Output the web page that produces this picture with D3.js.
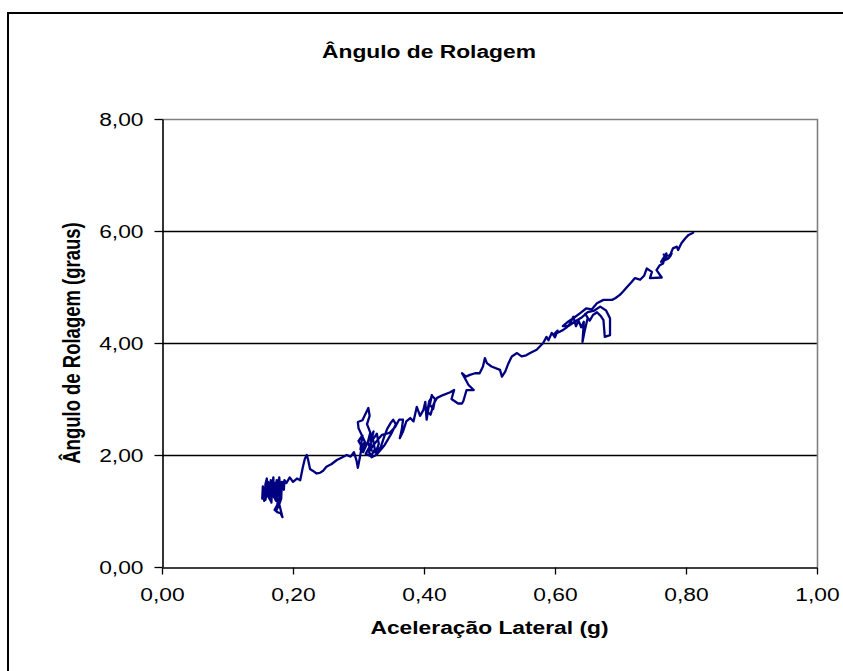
<!DOCTYPE html>
<html><head><meta charset="utf-8">
<script src="https://cdn.jsdelivr.net/npm/d3@7"></script>
<style>body{margin:0;background:#fff} text{font-family:"Liberation Sans",Arial,sans-serif}</style>
</head><body><svg id="c" width="843" height="671"></svg>
<script>
// [lateral acceleration (g), roll angle (graus)] in recorded order
const rollTrace = [
[0.160,1.30],[0.162,1.52],[0.158,1.20],[0.155,1.35],[0.153,1.22],[0.154,1.44],[0.156,1.18],[0.158,1.48],
[0.160,1.58],[0.161,1.28],[0.163,1.50],[0.164,1.22],[0.166,1.55],[0.167,1.15],[0.168,1.42],[0.170,1.60],
[0.171,1.24],[0.172,1.45],[0.169,1.32],[0.174,1.18],[0.175,1.55],[0.176,1.28],[0.171,1.40],[0.178,1.10],
[0.175,1.02],[0.177,1.20],[0.180,1.25],[0.177,1.48],[0.179,1.60],[0.181,1.30],[0.183,1.52],[0.182,1.22],
[0.179,1.12],[0.184,0.89],[0.181,0.96],[0.176,0.98],[0.172,1.02],[0.178,1.15],[0.182,1.40],[0.185,1.52],
[0.180,1.35],[0.174,1.45],[0.170,1.30],[0.165,1.40],[0.162,1.26],[0.166,1.18],[0.168,1.46],[0.173,1.50],
[0.176,1.38],[0.174,1.22],[0.178,1.30],[0.183,1.45],[0.186,1.38],[0.187,1.55],
[0.190,1.50],[0.195,1.60],[0.200,1.52],[0.206,1.58],[0.211,1.55],[0.215,1.78],[0.218,1.93],[0.221,2.00],
[0.223,1.92],[0.226,1.75],[0.230,1.72],[0.236,1.67],[0.241,1.68],[0.246,1.72],[0.251,1.79],[0.259,1.84],
[0.267,1.91],[0.274,1.95],[0.282,2.00],[0.288,1.97],
[0.293,2.05],[0.297,1.90],[0.299,1.77],[0.302,1.95],[0.305,2.15],[0.300,2.25],[0.306,2.35],[0.303,2.10],
[0.309,2.22],[0.307,2.05],[0.312,2.18],[0.300,2.48],[0.299,2.59],[0.306,2.62],[0.310,2.72],[0.315,2.84],
[0.317,2.70],[0.313,2.55],[0.318,2.40],[0.314,2.22],[0.320,2.08],[0.318,2.30],[0.323,2.42],[0.317,2.15],
[0.311,2.02],[0.319,1.98],[0.325,2.10],[0.322,2.28],[0.328,2.38],[0.331,2.20],[0.326,2.04],[0.334,2.14],
[0.339,2.32],[0.344,2.47],[0.349,2.57],[0.353,2.63],[0.357,2.55],[0.351,2.40],[0.345,2.28],[0.340,2.18],
[0.333,2.08],[0.327,2.00],[0.320,1.96],[0.316,2.06],[0.323,2.18],[0.330,2.28],[0.336,2.36],[0.343,2.38],
[0.348,2.40],[0.356,2.50],[0.362,2.63],[0.368,2.63],[0.366,2.45],[0.363,2.30],[0.368,2.42],[0.373,2.60],
[0.379,2.66],[0.384,2.60],[0.389,2.86],[0.394,2.70],[0.399,2.80],[0.402,2.95],[0.404,2.63],[0.407,2.85],
[0.412,3.07],[0.409,2.90],[0.414,2.82],[0.417,3.00],[0.413,3.05],[0.408,2.96],[0.405,2.78],[0.410,2.72],
[0.415,2.92],[0.420,3.02],[0.429,3.07],[0.440,3.12],[0.446,3.16],[0.442,3.00],[0.452,2.92],[0.458,2.92],
[0.460,2.96],[0.465,3.16],[0.476,3.16],[0.468,3.25],[0.462,3.38],[0.458,3.46],[0.464,3.40],[0.470,3.43],
[0.478,3.46],[0.485,3.46],[0.490,3.58],[0.493,3.73],[0.496,3.64],[0.503,3.58],[0.516,3.52],[0.519,3.40],
[0.524,3.49],[0.529,3.64],[0.534,3.76],[0.542,3.82],[0.549,3.76],[0.556,3.78],[0.562,3.82],[0.572,3.88],
[0.582,4.00],[0.587,4.11],
[0.590,4.05],[0.595,4.18],[0.600,4.10],[0.604,4.22],[0.598,4.15],[0.607,4.20],[0.612,4.23],[0.618,4.28],
[0.623,4.35],[0.628,4.47],[0.632,4.30],[0.636,4.40],[0.640,4.28],[0.644,4.38],[0.642,4.02],[0.645,4.20],
[0.650,4.45],[0.646,4.52],[0.653,4.40],[0.658,4.50],[0.664,4.55],[0.670,4.48],[0.674,4.41],[0.676,4.11],
[0.684,4.14],[0.684,4.44],[0.678,4.58],[0.669,4.65],[0.660,4.58],[0.650,4.55],[0.640,4.45],[0.630,4.38],
[0.620,4.30],[0.612,4.30],[0.620,4.38],[0.630,4.46],[0.638,4.53],[0.648,4.62],[0.656,4.60],[0.664,4.71],
[0.674,4.77],[0.687,4.77],[0.692,4.80],[0.699,4.86],[0.704,4.92],[0.710,5.00],[0.717,5.09],[0.722,5.16],
[0.730,5.13],[0.736,5.20],[0.740,5.33],[0.748,5.27],[0.745,5.16],[0.763,5.17],[0.755,5.30],[0.760,5.39],
[0.765,5.42],[0.768,5.54],[0.770,5.60],[0.762,5.45],[0.772,5.50],[0.766,5.58],[0.776,5.55],[0.778,5.60],
[0.774,5.52],[0.780,5.69],[0.786,5.72],[0.788,5.66],[0.793,5.78],[0.799,5.87],[0.804,5.93],[0.811,5.97]
];
const xTickValues = [0, 0.2, 0.4, 0.6, 0.8, 1.0];
const yTickValues = [0, 2, 4, 6, 8];
const chartTitle = "Ângulo de Rolagem";
const xTitle = "Aceleração Lateral (g)";
const yTitle = "Ângulo de Rolagem (graus)";

const W = 843, H = 671, SX = 1.2, FS = 19;
const m = {left: 162, right: 817, top: 119, bottom: 567};
const svg = d3.select("#c");
svg.append("rect").attr("width", W).attr("height", H).attr("fill", "#fff");
svg.append("rect").attr("x", 8).attr("y", 13).attr("width", 900).attr("height", 700)
  .attr("fill", "none").attr("stroke", "#000").attr("stroke-width", 2);

const x = d3.scaleLinear().domain([0, 1]).range([m.left, m.right]);
const y = d3.scaleLinear().domain([0, 8]).range([m.bottom, m.top]);
const loc = d3.formatLocale({decimal: ",", thousands: ".", grouping: [3], currency: ["", ""]});
const fmt = loc.format(".2f");

// gridlines
svg.append("g").selectAll("line").data(yTickValues.filter(v => v > 0 && v < 8)).join("line")
  .attr("x1", m.left).attr("x2", m.right)
  .attr("y1", d => Math.round(y(d)) + 0.5).attr("y2", d => Math.round(y(d)) + 0.5)
  .attr("stroke", "#000").attr("stroke-width", 1.3);
// plot border top & right (gray)
svg.append("path")
  .attr("d", `M${m.left},${m.top + 0.5}H${m.right + 0.5}V${m.bottom}`)
  .attr("fill", "none").attr("stroke", "#808080").attr("stroke-width", 1.6);

// axes
const gx = svg.append("g").attr("transform", `translate(0,${m.bottom + 0.5})`)
  .call(d3.axisBottom(x).tickValues(xTickValues).tickFormat(fmt).tickSize(7).tickSizeOuter(0));
gx.select(".domain").attr("stroke", "#000").attr("stroke-width", 1.6);
gx.selectAll(".tick line").attr("stroke", "#000").attr("stroke-width", 1.3);
gx.selectAll(".tick text").attr("y", 34).attr("dy", 0).attr("font-size", FS)
  .attr("font-family", "Liberation Sans, Arial, sans-serif").attr("fill", "#000")
  .attr("transform", `scale(${SX},1)`);

const gy = svg.append("g").attr("transform", `translate(${m.left + 0.5},0)`)
  .call(d3.axisLeft(y).tickValues(yTickValues).tickFormat(fmt).tickSize(8).tickSizeOuter(0));
gy.select(".domain").attr("stroke", "#000").attr("stroke-width", 1.6);
gy.selectAll(".tick line").attr("stroke", "#000").attr("stroke-width", 1.3);
gy.selectAll(".tick text").attr("x", -19 / SX).attr("dy", "0.36em").attr("font-size", FS)
  .attr("font-family", "Liberation Sans, Arial, sans-serif").attr("fill", "#000")
  .attr("transform", `scale(${SX},1)`);

// data line
const line = d3.line().x(d => x(d[0])).y(d => y(d[1]));
svg.append("path").datum(rollTrace).attr("d", line)
  .attr("fill", "none").attr("stroke", "#000080").attr("stroke-width", 2.3)
  .attr("stroke-linejoin", "round").attr("stroke-linecap", "round");

// titles
svg.append("g").attr("transform", `translate(429,58) scale(${SX},1)`)
  .append("text").attr("text-anchor", "middle").attr("font-size", FS).attr("font-weight", "bold")
  .text(chartTitle);
svg.append("g").attr("transform", `translate(${(m.left + m.right) / 2},634) scale(${SX},1)`)
  .append("text").attr("text-anchor", "middle").attr("font-size", FS).attr("font-weight", "bold")
  .text(xTitle);
svg.append("g").attr("transform", `translate(80,${(m.top + m.bottom) / 2}) rotate(-90) scale(1,1.25)`)
  .append("text").attr("text-anchor", "middle").attr("font-size", 18.5).attr("font-weight", "bold")
  .text(yTitle);
</script></body></html>
